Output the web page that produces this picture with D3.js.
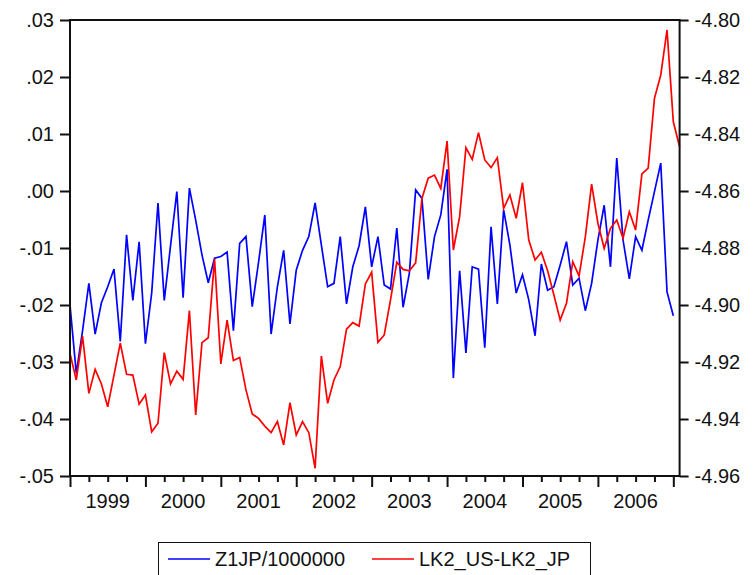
<!DOCTYPE html>
<html>
<head>
<meta charset="utf-8">
<script src="https://cdn.jsdelivr.net/npm/d3@7"></script>
<style>
  body { margin: 0; background: #fff; }
  svg text { font-family: "Liberation Sans", Arial, sans-serif; fill: #111; }
</style>
</head>
<body>
<svg id="chart"></svg>
<script>
// monthly, starting 1999M01
const startYear = 1999
const years = [1999, 2000, 2001, 2002, 2003, 2004, 2005, 2006]

// Z1JP/1000000 (left axis)
const z1jp = [
  -0.0200, -0.0320, -0.0245, -0.0162, -0.0251, -0.0196, -0.0168, -0.0137, -0.0264, -0.0077, -0.0192, -0.0089,
  -0.0268, -0.0179, -0.0021, -0.0192, -0.0096, -0.0001, -0.0187, 0.0005, -0.0051, -0.0112, -0.0161, -0.0118,
  -0.0115, -0.0107, -0.0245, -0.0092, -0.0080, -0.0203, -0.0125, -0.0042, -0.0251, -0.0168, -0.0104, -0.0233,
  -0.0139, -0.0104, -0.0080, -0.0021, -0.0095, -0.0168, -0.0162, -0.0080, -0.0198, -0.0133, -0.0096, -0.0028,
  -0.0133, -0.0080, -0.0165, -0.0172, -0.0065, -0.0204, -0.0144, 0.0002, -0.0013, -0.0155, -0.0080, -0.0042,
  0.0038, -0.0328, -0.0140, -0.0284, -0.0133, -0.0137, -0.0275, -0.0063, -0.0198, -0.0033, -0.0095, -0.0179,
  -0.0147, -0.0191, -0.0254, -0.0128, -0.0174, -0.0168, -0.0130, -0.0089, -0.0165, -0.0153, -0.0210, -0.0162,
  -0.0086, -0.0025, -0.0133, 0.0058, -0.0086, -0.0154, -0.0080, -0.0104, -0.0051, -0.0001, 0.0049, -0.0177,
  -0.0219
]

// LK2_US-LK2_JP (right axis)
const lk2 = [
  -4.9170, -4.9263, -4.9109, -4.9310, -4.9226, -4.9277, -4.9357, -4.9246, -4.9134, -4.9243, -4.9246, -4.9348,
  -4.9316, -4.9445, -4.9415, -4.9167, -4.9277, -4.9232, -4.9261, -4.9020, -4.9386, -4.9132, -4.9115, -4.8838,
  -4.9207, -4.9053, -4.9195, -4.9184, -4.9298, -4.9382, -4.9398, -4.9425, -4.9448, -4.9409, -4.9491, -4.9343,
  -4.9456, -4.9409, -4.9448, -4.9573, -4.9179, -4.9345, -4.9263, -4.9216, -4.9085, -4.9062, -4.9074, -4.8926,
  -4.8885, -4.9131, -4.9105, -4.8982, -4.8850, -4.8875, -4.8880, -4.8852, -4.8626, -4.8555, -4.8544, -4.8591,
  -4.8425, -4.8807, -4.8690, -4.8448, -4.8489, -4.8395, -4.8491, -4.8518, -4.8483, -4.8661, -4.8614, -4.8696,
  -4.8571, -4.8772, -4.8842, -4.8815, -4.8880, -4.8965, -4.9053, -4.8994, -4.8848, -4.8898, -4.8761, -4.8576,
  -4.8713, -4.8801, -4.8731, -4.8702, -4.8766, -4.8673, -4.8737, -4.8540, -4.8520, -4.8275, -4.8193, -4.8035,
  -4.8357, -4.8445
]

const leftTicks = [0.03, 0.02, 0.01, 0.00, -0.01, -0.02, -0.03, -0.04, -0.05]
const rightTicks = [-4.80, -4.82, -4.84, -4.86, -4.88, -4.90, -4.92, -4.94, -4.96]
const seriesNames = ["Z1JP/1000000", "LK2_US-LK2_JP"]
const colors = ["#0000ff", "#ff0000"]

const width = 753, height = 575
const plotL = 70, plotR = 679.6, plotT = 20, plotB = 476

const svg = d3.select("#chart").attr("width", width).attr("height", height)

const x = d3.scaleLinear().domain([0, 97]).range([plotL, plotR])
const yL = d3.scaleLinear().domain([-0.05, 0.03]).range([plotB, plotT])
const yR = d3.scaleLinear().domain([-4.96, -4.80]).range([plotB, plotT])

// plain hyphen for negatives, no leading zero on the left axis
const fmt2 = d3.formatLocale({decimal: ".", thousands: ",", grouping: [3], currency: ["", ""], minus: "-"}).format(".2f")
const fmtL = d => fmt2(d).replace(/^(-?)0\./, "$1.")
const fmtR = fmt2

// left axis
svg.append("g")
  .attr("transform", `translate(${plotL},0)`)
  .call(d3.axisLeft(yL).tickValues(leftTicks).tickFormat(fmtL).tickSize(10).tickPadding(6))
  .call(g => g.select(".domain").remove())
  .call(g => g.selectAll("line").attr("stroke", "#111").attr("stroke-width", 2))
  .call(g => g.selectAll("text").attr("font-size", 20).attr("fill", "#111"))

// right axis
svg.append("g")
  .attr("transform", `translate(${plotR},0)`)
  .call(d3.axisRight(yR).tickValues(rightTicks).tickFormat(fmtR).tickSize(9).tickPadding(6))
  .call(g => g.select(".domain").remove())
  .call(g => g.selectAll("line").attr("stroke", "#111").attr("stroke-width", 2))
  .call(g => g.selectAll("text").attr("font-size", 20).attr("fill", "#111"))

// bottom axis: quarterly ticks, longer at January
svg.append("g")
  .attr("transform", `translate(0,${plotB})`)
  .call(d3.axisBottom(x).tickValues(d3.range(0, 97, 3)).tickFormat("").tickSize(6))
  .call(g => g.select(".domain").remove())
  .call(g => g.selectAll(".tick line")
    .attr("stroke", "#111").attr("stroke-width", 2)
    .attr("y2", d => d % 12 === 0 ? 11 : 6))

svg.append("g")
  .selectAll("text")
  .data(years)
  .enter().append("text")
  .attr("x", d => x((d - startYear) * 12 + 6))
  .attr("y", 508)
  .attr("text-anchor", "middle")
  .attr("font-size", 20)
  .text(d => d)

// series
const lineL = d3.line().x((d, i) => x(i)).y(d => yL(d))
const lineR = d3.line().x((d, i) => x(i)).y(d => yR(d))

svg.append("path")
  .datum(z1jp)
  .attr("d", lineL)
  .attr("fill", "none")
  .attr("stroke", colors[0])
  .attr("stroke-width", 1.7)

svg.append("path")
  .datum(lk2)
  .attr("d", lineR)
  .attr("fill", "none")
  .attr("stroke", colors[1])
  .attr("stroke-width", 1.7)

// frame
svg.append("rect")
  .attr("x", plotL)
  .attr("y", plotT)
  .attr("width", plotR - plotL)
  .attr("height", plotB - plotT)
  .attr("fill", "none")
  .attr("stroke", "#111")
  .attr("stroke-width", 2)

// legend
const legend = svg.append("g")
legend.append("rect")
  .attr("x", 158.5).attr("y", 542.5)
  .attr("width", 432).attr("height", 40)
  .attr("fill", "none").attr("stroke", "#111").attr("stroke-width", 1)

const legendX = [168, 372]
seriesNames.forEach((name, k) => {
  legend.append("line")
    .attr("x1", legendX[k]).attr("x2", legendX[k] + 42)
    .attr("y1", 559).attr("y2", 559)
    .attr("stroke", colors[k]).attr("stroke-width", 1.5)
  legend.append("text")
    .attr("x", legendX[k] + 47).attr("y", 566)
    .attr("font-size", 20)
    .text(name)
})
</script>
</body>
</html>
